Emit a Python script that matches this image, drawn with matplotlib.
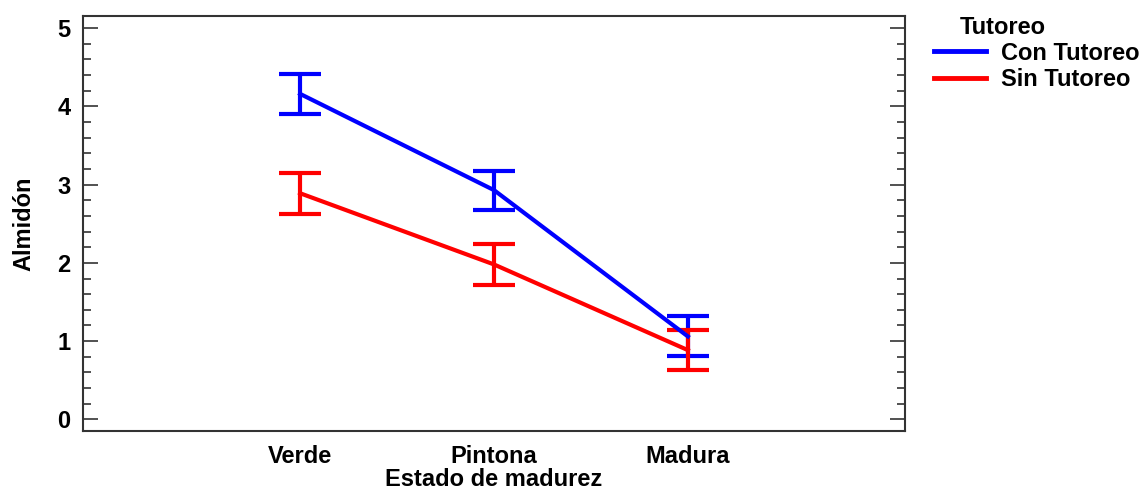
import matplotlib
matplotlib.use("Agg")
import matplotlib.pyplot as plt
from matplotlib.lines import Line2D
from matplotlib.ticker import MultipleLocator

plt.rcParams["font.family"] = ["Liberation Sans", "DejaVu Sans"]
plt.rcParams["font.weight"] = "bold"

# data
stages = ["Verde", "Pintona", "Madura"]
con_mean = [4.16, 2.93, 1.06]
con_err = [0.255, 0.25, 0.255]
sin_mean = [2.89, 1.98, 0.885]
sin_err = [0.26, 0.265, 0.255]
series_names = ["Con Tutoreo", "Sin Tutoreo"]
colors = ["#0000ff", "#ff0000"]

fig = plt.figure(figsize=(11.41, 4.91), dpi=100)
ax = fig.add_axes([0.0727, 0.122, 0.7205, 0.845])

x = list(range(len(stages)))
for means, errs, col in [(con_mean, con_err, colors[0]), (sin_mean, sin_err, colors[1])]:
    ax.errorbar(x, means, yerr=errs, color=col, lw=3, elinewidth=3,
                capsize=15, capthick=3)

ax.set_xlim(-1.12, 3.12)
ax.set_ylim(-0.15, 5.153)
ax.set_xticks(x)
ax.set_xticklabels(stages)
ax.yaxis.set_major_locator(MultipleLocator(1))
ax.yaxis.set_minor_locator(MultipleLocator(0.2))

ax.tick_params(axis="y", which="both", direction="in", left=True, right=True,
               colors="#333333", labelcolor="black", labelsize=17, pad=9)
ax.tick_params(axis="y", which="major", length=11, width=1.2)
ax.tick_params(axis="y", which="minor", length=6, width=1.2)
ax.tick_params(axis="x", which="both", length=0, labelsize=17, pad=10)
for s in ax.spines.values():
    s.set_color("#333333")
    s.set_linewidth(1.5)

ax.set_xlabel("Estado de madurez", fontsize=17, fontweight="bold", labelpad=0)
ax.set_ylabel("Almidón", fontsize=17, fontweight="bold", labelpad=16)

# legend: title drawn separately so it can sit offset like the reference
fig.text(0.841, 0.945, "Tutoreo", fontsize=17, fontweight="bold", ha="left", va="center")
handles = [Line2D([], [], color=c, lw=3.5) for c in colors]
fig.legend(handles, series_names, loc="upper left",
           bbox_to_anchor=(0.819, 0.915), frameon=False, fontsize=17,
           handlelength=2.2, handletextpad=0.6, labelspacing=0.15,
           borderaxespad=0, borderpad=0)

fig.savefig("out.png", dpi=100)
